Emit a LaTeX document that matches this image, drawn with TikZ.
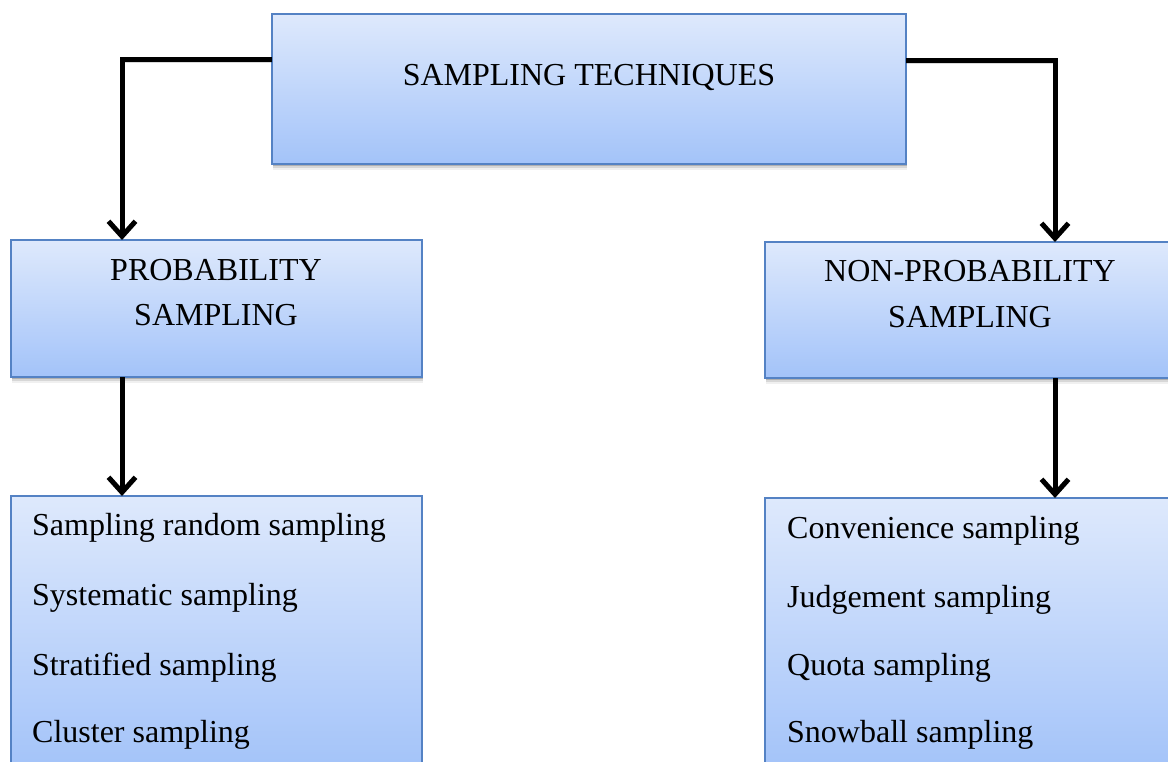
\documentclass[tikz,border=0pt]{standalone}
\usepackage{fontspec}
\setmainfont{Liberation Serif}
\usetikzlibrary{arrows.meta,shadows}
\definecolor{boxtop}{RGB}{222,233,252}
\definecolor{boxbot}{RGB}{163,195,249}
\definecolor{boxline}{RGB}{84,130,196}
\tikzset{
  box/.style={draw=boxline, line width=1.6pt, rectangle, anchor=north west,
    top color=boxtop, bottom color=boxbot, inner sep=0pt, outer sep=0pt,
    drop shadow={shadow xshift=1pt, shadow yshift=-6pt, opacity=0.06, fill=black},
    drop shadow={shadow xshift=1pt, shadow yshift=-4pt, opacity=0.10, fill=black},
    drop shadow={shadow xshift=0.5pt, shadow yshift=-2pt, opacity=0.18, fill=black}},
  conn/.style={line width=5pt, line join=miter, black,
    -{Straight Barb[length=15pt, width=27pt, line width=5pt]},
    preaction={draw=black, opacity=0.15, transform canvas={yshift=-2.5pt}}},
  lbl/.style={anchor=base, inner sep=0pt, font=\fontsize{32}{40}\selectfont},
  item/.style={anchor=base west, inner sep=0pt, font=\fontsize{32}{40}\selectfont}
}
\begin{document}
\begin{tikzpicture}[x=1pt, y=-1pt]
  \fill[white] (0,0) rectangle (1168,762);
  \useasboundingbox (0,0) rectangle (1168,762);
  \clip (0,0) rectangle (1168,762);

  % boxes
  \node[box, minimum width=634pt, minimum height=150pt] (top) at (272,14) {};
  \node[box, minimum width=411pt, minimum height=137pt] (prob) at (11,240) {};
  \node[box, minimum width=411pt, minimum height=136pt] (nonprob) at (765,242) {};
  \node[box, minimum width=411pt, minimum height=274pt] (list1) at (11,496) {};
  \node[box, minimum width=411pt, minimum height=272pt] (list2) at (765,498) {};

  % box texts
  \node[lbl] (ttop) at (589,86) {SAMPLING TECHNIQUES};
  \node[lbl] (tprob1) at (216,280) {PROBABILITY};
  \node[lbl] (tprob2) at (216,325) {SAMPLING};
  \node[lbl] (tnon1) at (970,282) {NON-PROBABILITY};
  \node[lbl] (tnon2) at (970,327) {SAMPLING};

  \node[item] (a1) at (32,535) {Sampling random sampling};
  \node[item] (a2) at (32,605) {Systematic sampling};
  \node[item] (a3) at (32,675) {Stratified sampling};
  \node[item] (a4) at (32,742) {Cluster sampling};

  \node[item] (b1) at (787,538) {Convenience sampling};
  \node[item] (b2) at (787,607) {Judgement sampling};
  \node[item] (b3) at (787,675) {Quota sampling};
  \node[item] (b4) at (787,742) {Snowball sampling};

  % connectors
  \draw[conn] ([yshift=-46pt]top.north west) -| ([xshift=111pt]prob.north west);
  \draw[conn] ([yshift=-47pt]top.north east) -| ([xshift=290pt]nonprob.north west);
  \draw[conn] ([xshift=111pt]prob.south west) -- ([xshift=111pt]list1.north west);
  \draw[conn] ([xshift=290pt]nonprob.south west) -- ([xshift=290pt]list2.north west);
\end{tikzpicture}
\end{document}
